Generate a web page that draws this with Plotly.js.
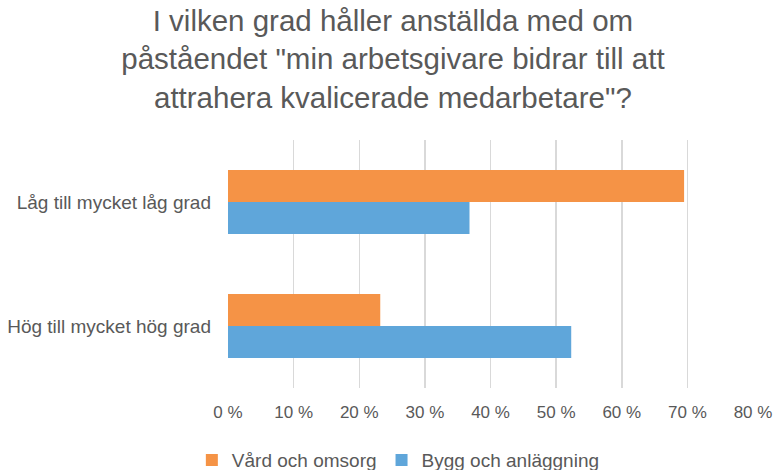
<!DOCTYPE html>
<html>
<head>
<meta charset="utf-8">
<script src="https://cdn.plot.ly/plotly-3.0.1.min.js"></script>
<style>html,body{margin:0;padding:0;background:#fff;}#chart{width:775px;height:470px;}</style>
</head>
<body>
<div id="chart"></div>
<script>
const categories = ["Hög till mycket hög grad", "Låg till mycket låg grad"];
const seriesNames = ["Vård och omsorg", "Bygg och anläggning"];
const vardValues = [0.232, 0.695];
const byggValues = [0.523, 0.368];
const seriesColors = ["#F59346", "#5FA6DA"];
const tickVals = [0, 0.1, 0.2, 0.3, 0.4, 0.5, 0.6, 0.7, 0.8];
const tickLabels = ["0 %", "10 %", "20 %", "30 %", "40 %", "50 %", "60 %", "70 %", "80 %"];

const gray = "#595959";
const fontFam = "Liberation Sans, Arial, sans-serif";

const traces = [
  {type: "bar", orientation: "h", name: seriesNames[1], y: categories, x: byggValues,
   marker: {color: seriesColors[1]}, hoverinfo: "skip"},
  {type: "bar", orientation: "h", name: seriesNames[0], y: categories, x: vardValues,
   marker: {color: seriesColors[0]}, hoverinfo: "skip"}
];

const layout = {
  width: 775, height: 470,
  margin: {l: 228, r: 22, t: 140, b: 82, autoexpand: false},
  paper_bgcolor: "#fff", plot_bgcolor: "#fff",
  font: {family: fontFam, color: gray, size: 16},
  title: {
    text: "I vilken grad håller anställda med om<br>påståendet \"min arbetsgivare bidrar till att<br>attrahera kvalicerade medarbetare\"?",
    font: {family: fontFam, size: 29.5, color: gray},
    x: 0.507, xanchor: "center", y: 0.934, yanchor: "middle", yref: "container"
  },
  barmode: "group",
  bargap: 0.484,
  bargroupgap: 0,
  xaxis: {
    range: [0, 0.8], tickvals: tickVals, ticktext: tickLabels,
    showgrid: true, gridcolor: "#d9d9d9", gridwidth: 1.5,
    zeroline: false, showline: false, ticks: "",
    ticklabelstandoff: 12,
    tickfont: {size: 17, color: gray}, fixedrange: true
  },
  yaxis: {
    type: "category", categoryorder: "array", categoryarray: categories,
    showgrid: false, zeroline: false, showline: false, ticks: "",
    ticklabelstandoff: 16,
    tickfont: {size: 19, color: gray}, fixedrange: true
  },
  showlegend: true,
  legend: {
    orientation: "h", traceorder: "reversed",
    xref: "container", yref: "container",
    x: 0.514, xanchor: "center", y: 0.021, yanchor: "middle",
    font: {size: 19, color: gray}, itemwidth: 30
  }
};

Plotly.newPlot("chart", traces, layout, {displayModeBar: false, staticPlot: true});
</script>
</body>
</html>
